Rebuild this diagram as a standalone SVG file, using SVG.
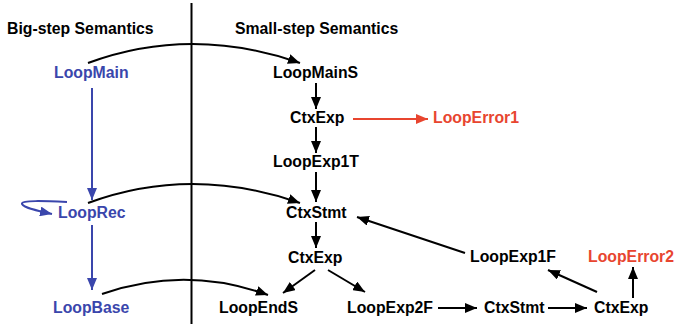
<svg xmlns="http://www.w3.org/2000/svg" width="675" height="324" viewBox="0 0 675 324">
<defs>
<style>
text{font-family:"Liberation Sans",Arial,Helvetica,sans-serif;font-weight:bold;font-size:15.8px}
.k{fill:#000}.b{fill:#3a46ac}.r{fill:#e8452f}
.e{fill:none;stroke:#000;stroke-width:2}
.eb{fill:none;stroke:#3a46ac;stroke-width:2}
.er{fill:none;stroke:#e8452f;stroke-width:2}
</style>
<marker id="ak" markerUnits="userSpaceOnUse" markerWidth="13" markerHeight="10" refX="12" refY="5" orient="auto"><path d="M0,0 L12,5 L0,10 z" fill="#000"/></marker>
<marker id="ab" markerUnits="userSpaceOnUse" markerWidth="13" markerHeight="10" refX="12" refY="5" orient="auto"><path d="M0,0 L12,5 L0,10 z" fill="#3a46ac"/></marker>
<marker id="ar" markerUnits="userSpaceOnUse" markerWidth="13" markerHeight="10" refX="12" refY="5" orient="auto"><path d="M0,0 L12,5 L0,10 z" fill="#e8452f"/></marker>
</defs>
<rect width="675" height="324" fill="#fff"/>
<line x1="191.5" y1="3" x2="191.5" y2="324" stroke="#000" stroke-width="2"/>
<text class="k" x="7" y="34">Big-step Semantics</text>
<text class="k" x="235" y="34">Small-step Semantics</text>
<g id="connectors">
<path class="e" d="M88,63 Q191,25 300,63" marker-end="url(#ak)"/>
<path class="e" d="M88,203 Q191,165 300,203" marker-end="url(#ak)"/>
<path class="e" d="M102,294 Q185,265 268,295" marker-end="url(#ak)"/>
<line class="eb" x1="92" y1="88" x2="92" y2="200" marker-end="url(#ab)"/>
<line class="eb" x1="92" y1="225" x2="92" y2="290" marker-end="url(#ab)"/>
<path class="eb" d="M67,202 C45,201 20,200 22,204 C24,208 38,211 52,214" marker-end="url(#ab)"/>
<line class="e" x1="316" y1="83" x2="316" y2="109" marker-end="url(#ak)"/>
<line class="er" x1="353" y1="119" x2="428" y2="119" marker-end="url(#ar)"/>
<line class="e" x1="316" y1="127" x2="316" y2="153" marker-end="url(#ak)"/>
<line class="e" x1="316" y1="172" x2="316" y2="202" marker-end="url(#ak)"/>
<line class="e" x1="316" y1="222" x2="316" y2="248" marker-end="url(#ak)"/>
<line class="e" x1="315" y1="270" x2="283" y2="293" marker-end="url(#ak)"/>
<line class="e" x1="328" y1="270" x2="365" y2="292" marker-end="url(#ak)"/>
<line class="e" x1="438" y1="308" x2="477" y2="308" marker-end="url(#ak)"/>
<line class="e" x1="548" y1="308" x2="587" y2="308" marker-end="url(#ak)"/>
<line class="e" x1="597" y1="292" x2="548" y2="270" marker-end="url(#ak)"/>
<line class="e" x1="633" y1="298" x2="633" y2="267" marker-end="url(#ak)"/>
<line class="e" x1="465" y1="253" x2="357" y2="217" marker-end="url(#ak)"/>
</g>
<g id="LoopMain"><text class="b" x="54" y="78">LoopMain</text></g>
<g id="LoopRec"><text class="b" x="58" y="218">LoopRec</text></g>
<g id="LoopBase"><text class="b" x="53" y="313">LoopBase</text></g>
<g id="LoopMainS"><text class="k" x="273" y="78">LoopMainS</text></g>
<g id="CtxExp1"><text class="k" x="290" y="123">CtxExp</text></g>
<g id="LoopError1"><text class="r" x="433" y="123">LoopError1</text></g>
<g id="LoopExp1T"><text class="k" x="273" y="167">LoopExp1T</text></g>
<g id="CtxStmt1"><text class="k" x="286" y="218">CtxStmt</text></g>
<g id="CtxExp2"><text class="k" x="288" y="263">CtxExp</text></g>
<g id="LoopExp1F"><text class="k" x="470" y="262">LoopExp1F</text></g>
<g id="LoopError2"><text class="r" x="588" y="262">LoopError2</text></g>
<g id="LoopEndS"><text class="k" x="219" y="313">LoopEndS</text></g>
<g id="LoopExp2F"><text class="k" x="347" y="313">LoopExp2F</text></g>
<g id="CtxStmt2"><text class="k" x="484" y="313">CtxStmt</text></g>
<g id="CtxExp3"><text class="k" x="594" y="313">CtxExp</text></g>
</svg>
